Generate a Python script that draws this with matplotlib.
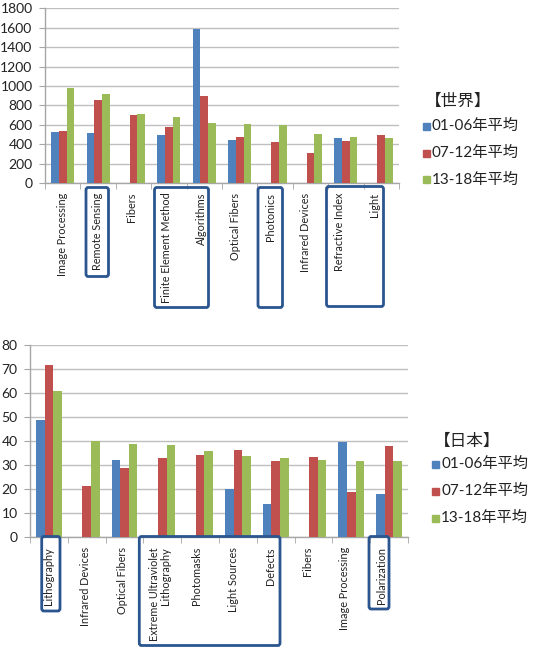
import matplotlib
matplotlib.use("Agg")
import matplotlib.pyplot as plt
from matplotlib.patches import FancyBboxPatch, Rectangle
import matplotlib.transforms as mtransforms
import numpy as np

plt.rcParams['font.family'] = ['Lato', 'Noto Sans CJK JP', 'DejaVu Sans']

series_labels = ["01-06年平均", "07-12年平均", "13-18年平均"]
colors = ["#4F81BD", "#C0504D", "#9BBB59"]

world_title = "【世界】"
world_cats = ["Image Processing", "Remote Sensing", "Fibers", "Finite Element Method",
              "Algorithms", "Optical Fibers", "Photonics", "Infrared Devices",
              "Refractive Index", "Light"]
world_0106 = [530, 515, 0, 490, 1590, 440, 0, 0, 466, 0]
world_0712 = [540, 855, 705, 575, 900, 470, 420, 312, 428, 494]
world_1318 = [980, 920, 710, 685, 620, 610, 598, 502, 473, 460]

japan_title = "【日本】"
japan_cats = ["Lithography", "Infrared Devices", "Optical Fibers",
              "Extreme Ultraviolet\nLithography", "Photomasks", "Light Sources",
              "Defects", "Fibers", "Image Processing", "Polarization"]
japan_0106 = [49, 0, 32.2, 0, 0, 19.9, 13.9, 0, 39.8, 17.9]
japan_0712 = [71.7, 21.5, 28.7, 32.9, 34.4, 36.5, 31.7, 33.3, 18.7, 37.8]
japan_1318 = [60.8, 40, 38.9, 38.3, 36, 34, 32.9, 32.1, 31.7, 31.7]

W, H = 534, 647
fig = plt.figure(figsize=(W / 100, H / 100), dpi=100)


def fx(px):
    return px / W


def fy(py):
    return 1 - py / H


def draw_chart(rect, cats, data, ymax, ystep, bw, ytick_fs, shift_px):
    ax = fig.add_axes(rect)
    n = len(cats)
    x = np.arange(n)
    for i, vals in enumerate(data):
        ax.bar(x + (i - 1) * bw, vals, width=bw, color=colors[i], zorder=3,
               linewidth=0)
    ax.set_xlim(-0.5, n - 0.5)
    ax.set_ylim(0, ymax)
    ax.set_yticks(np.arange(0, ymax + ystep / 2, ystep))
    ax.yaxis.grid(True, color="#BFBFBF", linewidth=1.0, zorder=0)
    ax.set_axisbelow(True)
    for s in ["top", "right"]:
        ax.spines[s].set_visible(False)
    for s in ["left", "bottom"]:
        ax.spines[s].set_color("#A6A6A6")
        ax.spines[s].set_linewidth(1.0)
    ax.tick_params(axis="y", length=4, color="#A6A6A6", labelsize=ytick_fs,
                   pad=5, labelcolor="#222222")
    ax.set_xticks(x)
    ax.set_xticklabels(cats, rotation=90, fontsize=7.8, va="top", ha="center",
                       multialignment="right", color="#222222", linespacing=1.0)
    ax.tick_params(axis="x", length=0, pad=7)
    for i, lab in enumerate(ax.get_xticklabels()):
        off = mtransforms.ScaledTranslation(-shift_px * i / (n - 1) / 100, 0,
                                            fig.dpi_scale_trans)
        lab.set_transform(lab.get_transform() + off)
    ax.set_xticks(np.arange(-0.5, n, 1.0), minor=True)
    ax.tick_params(axis="x", which="minor", length=4, color="#A6A6A6")
    return ax


draw_chart([fx(45), fy(183), fx(399) - fx(45), fy(8.3) - fy(183)],
           world_cats, [world_0106, world_0712, world_1318], 1800, 200, 0.217, 10, 7)
draw_chart([fx(30), fy(537.3), fx(408) - fx(30), fy(345) - fy(537.3)],
           japan_cats, [japan_0106, japan_0712, japan_1318], 80, 10, 0.227, 10, 8)


def legend(title, tx, ty, ex, ey0, dy):
    fig.text(fx(tx), fy(ty), title, fontsize=12, va="center", ha="left",
             color="#222222", family=['Noto Sans CJK JP', 'DejaVu Sans'])
    for i, lab in enumerate(series_labels):
        yy = ey0 + i * dy
        fig.patches.append(Rectangle((fx(ex), fy(yy + 3.5)), fx(7), fy(0) - fy(7),
                                     transform=fig.transFigure, color=colors[i]))
        fig.text(fx(ex + 9), fy(yy), lab, fontsize=11, va="center", ha="left",
                 color="#222222", family=['Lato', 'Noto Sans CJK JP'])


legend(world_title, 425, 101, 423, 126, 27)
legend(japan_title, 434, 441, 432, 464, 27)

box_color = "#2B558F"


def box(x0, y0, x1, y1):
    p = FancyBboxPatch((fx(x0), fy(y1)), fx(x1) - fx(x0), fy(y0) - fy(y1),
                       boxstyle="round,pad=0,rounding_size=0.004",
                       transform=fig.transFigure, fill=False,
                       edgecolor=box_color, linewidth=2.0, zorder=10)
    fig.patches.append(p)


box(86, 187.5, 108.5, 276.5)
box(154.5, 187.5, 208.5, 307.5)
box(258, 187.5, 282.5, 307.5)
box(326.5, 186.5, 383.5, 306.5)

box(41.7, 536.5, 60, 611)
box(139.3, 536.5, 280, 645.5)
box(369, 536.5, 389, 609)

fig.savefig("out.png", dpi=100)
